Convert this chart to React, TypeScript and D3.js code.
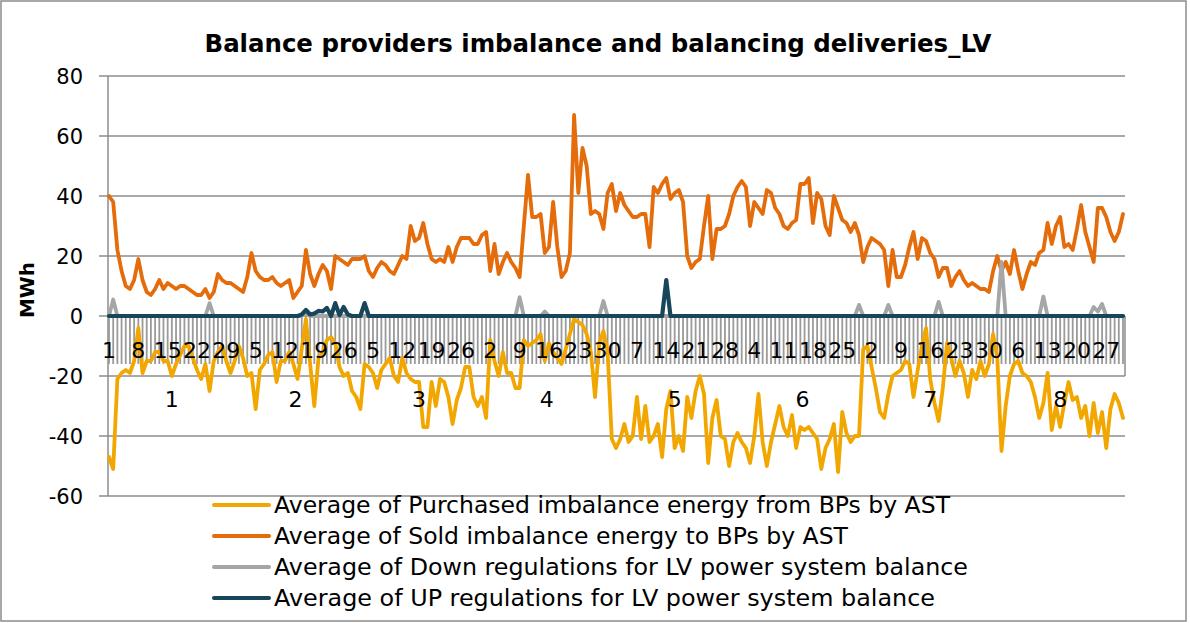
import React from 'react';
import * as d3 from 'd3';

const monthLabels = ['1', '2', '3', '4', '5', '6', '7', '8'];
const monthLengths = [31, 28, 31, 30, 31, 30, 31, 31];
const yTicks = [-60, -40, -20, 0, 20, 40, 60, 80];

const purchased = [
  -47, -51, -21, -19, -18, -19, -15, -4, -19, -15, -15, -12, -12, -15, -15, -20, -16, -13, -10, -10, -14, -18, -21, -16, -25, -15, -12, -10, -15, -19, -15,
  -10, -14, -20, -19, -31, -18, -16, -13, -12, -22, -15, -15, -12, -16, -21, -11, -1, -16, -30, -14, -12, -8, -7, -9, -17, -20, -19, -25,
  -27, -31, -16, -17, -19, -24, -18, -16, -14, -20, -22, -14, -19, -21, -22, -22, -37, -37, -22, -30, -21, -22, -27, -36, -28, -24, -17, -17, -27, -30, -27,
  -34, -8, -15, -20, -12, -19, -19, -24, -24, -8, -10, -9, -8, -6, -15, -9, -12, -14, -16, -11, -6, -1, -2, -3, -6, -12, -27, -9, -5, -12,
  -41, -44, -41, -36, -42, -40, -27, -41, -30, -42, -40, -36, -47, -31, -25, -44, -40, -45, -27, -34, -25, -20, -26, -49, -34, -28, -40, -41, -50, -42, -39,
  -42, -44, -49, -40, -26, -42, -50, -42, -36, -30, -37, -40, -33, -44, -37, -38, -37, -39, -41, -51, -44, -41, -36, -52, -32, -39, -42, -40, -40, -11,
  -10, -17, -24, -32, -34, -26, -20, -19, -18, -15, -16, -27, -18, -10, -4, -21, -29, -35, -24, -9, -14, -20, -15, -19, -27, -18, -21, -15, -20, -16, -6,
  -14, -45, -30, -20, -16, -15, -19, -20, -22, -27, -34, -29, -19, -38, -30, -37, -29, -22, -28, -27, -34, -30, -40, -29, -39, -32, -44, -31, -26, -29, -34,
];

const sold = [
  40, 38, 22, 15, 10, 9, 12, 19, 12, 8, 7, 9, 12, 9, 11, 10, 9, 10, 10, 9, 8, 7, 7, 9, 6, 8, 14, 12, 11, 11, 10,
  9, 8, 13, 21, 15, 13, 12, 12, 13, 11, 10, 11, 12, 6, 8, 10, 22, 14, 10, 14, 17, 15, 9, 20, 19, 18, 17, 19,
  19, 19, 20, 15, 13, 16, 18, 17, 15, 14, 17, 20, 19, 30, 25, 26, 31, 24, 19, 18, 19, 18, 23, 18, 23, 26, 26, 26, 24, 24, 27,
  28, 15, 24, 14, 18, 21, 18, 16, 13, 30, 47, 33, 33, 34, 21, 23, 38, 23, 13, 15, 21, 67, 41, 56, 50, 34, 35, 34, 29, 41,
  44, 35, 41, 37, 35, 33, 33, 34, 34, 23, 43, 41, 44, 46, 39, 41, 42, 38, 20, 16, 18, 19, 30, 40, 19, 29, 29, 30, 34, 40, 43,
  45, 43, 30, 38, 36, 34, 42, 41, 36, 34, 30, 29, 31, 32, 44, 44, 46, 31, 41, 39, 30, 27, 40, 36, 32, 31, 28, 31, 27, 18,
  23, 26, 25, 24, 22, 10, 22, 13, 13, 17, 23, 28, 19, 26, 25, 21, 19, 13, 16, 16, 10, 13, 15, 12, 10, 11, 10, 9, 9, 8, 15,
  20, 15, 18, 14, 22, 15, 9, 14, 18, 17, 21, 22, 31, 24, 30, 33, 23, 24, 22, 29, 37, 28, 23, 18, 36, 36, 33, 28, 25, 28, 34,
];

// [day index, value]; all other days are 0
const downRegSpikes: [number, number][] = [
  [1, 5.5], [24, 4.3], [47, 1], [98, 6.3], [104, 1.5], [118, 5], [179, 3.7], [186, 3.7], [198, 4.7],
  [213, 18], [223, 6.5], [235, 3], [236, 1.5], [237, 4],
];
const upRegSpikes: [number, number][] = [
  [46, 0.5], [47, 2], [48, 0.5], [49, 0.8], [50, 1.7], [51, 1.5], [52, 2.7], [54, 4.3], [55, 0.3], [56, 3], [57, 0.5],
  [61, 4.3], [133, 12],
];

const seriesNames = [
  'Average of Purchased imbalance energy from BPs by AST',
  'Average of Sold imbalance energy to BPs by AST',
  'Average of Down regulations for LV power system balance',
  'Average of UP regulations for LV power system balance',
];
const seriesColors = ['#F2A700', '#E46C0A', '#A6A6A6', '#17465A'];
const legendWidths = [676, 574, 694, 661];

const W = 1190;
const H = 623;
const FONT = '"DejaVu Sans", Verdana, sans-serif';

export default function App() {
  const total = d3.sum(monthLengths);
  const categories: { day: number; month: number }[] = [];
  monthLengths.forEach((len, m) => {
    for (let d = 1; d <= len; d++) categories.push({ day: d, month: m });
  });
  const fromSpikes = (sp: [number, number][]) => {
    const arr = new Array(total).fill(0);
    sp.forEach(([i, v]) => (arr[i] = v));
    return arr;
  };
  const downReg = fromSpikes(downRegSpikes);
  const upReg = fromSpikes(upRegSpikes);
  const allSeries = [purchased, sold, downReg, upReg];

  const x = d3.scaleLinear().domain([0, total - 1]).range([109, 1123]);
  const y = d3.scaleLinear().domain([-60, 80]).range([496, 76]);
  const left = 108;
  const right = 1125;
  const y0 = y(0);
  const yCat = y(-20);

  const line = d3
    .line<number>()
    .x((_, i) => x(i))
    .y((d) => y(d));

  const monthStarts = d3.cumsum([0, ...monthLengths]);

  return (
    <svg width={W} height={H} style={{ position: 'absolute', left: 0, top: 0, background: '#fff' }} fontFamily={FONT}>
      <rect x={1} y={1} width={1185} height={620} fill="#fff" stroke="#8c8c8c" strokeWidth={1.5} />
      <text x={598} y={52} textAnchor="middle" fontSize={25} fontWeight="bold" textLength={787} lengthAdjust="spacingAndGlyphs">
        Balance providers imbalance and balancing deliveries_LV
      </text>
      {/* gridlines and y ticks */}
      {yTicks.map((t) => (
        <g key={t}>
          <line x1={99} x2={right} y1={y(t)} y2={y(t)} stroke="#8c8c8c" strokeWidth={1.5} />
          <text x={83} y={y(t)} dy="0.36em" textAnchor="end" fontSize={21}>
            {t}
          </text>
        </g>
      ))}
      <line x1={left} x2={left} y1={y(80)} y2={y(-60)} stroke="#8c8c8c" strokeWidth={1.5} />
      <text transform={`translate(34,290) rotate(-90)`} textAnchor="middle" fontSize={20} fontWeight="bold" textLength={56} lengthAdjust="spacingAndGlyphs">
        MWh
      </text>
      {/* category tick band */}
      {categories.map((c, i) => (
        <line key={i} x1={x(i)} x2={x(i)} y1={y0} y2={y0 + 48} stroke="#9a9a9a" strokeWidth={1.8} />
      ))}
      <line x1={right} x2={right} y1={y0} y2={yCat} stroke="#8c8c8c" strokeWidth={1.5} />
      {/* month separators */}
      {monthStarts.slice(1, -1).map((s) => (
        <line key={s} x1={x(s - 0.5)} x2={x(s - 0.5)} y1={yCat} y2={yCat + 40} stroke="#8c8c8c" strokeWidth={1.5} />
      ))}
      {/* series */}
      {allSeries.map((s, k) => (
        <path key={k} d={line(s) || ''} fill="none" stroke={seriesColors[k]} strokeWidth={k === 3 ? 4.2 : 3.8} strokeLinejoin="round" strokeLinecap="round" />
      ))}
      {/* day labels */}
      {categories.map((c, i) =>
        i % 7 === 0 ? (
          <text key={i} x={x(i)} y={358} textAnchor="middle" fontSize={22}>
            {c.day}
          </text>
        ) : null
      )}
      {/* month labels */}
      {monthLabels.map((m, k) => (
        <text key={m} x={(x(monthStarts[k] - 0.5) + x(monthStarts[k + 1] - 0.5)) / 2} y={407} textAnchor="middle" fontSize={22}>
          {m}
        </text>
      ))}
      {/* legend */}
      {seriesNames.map((n, k) => {
        const cy = 505 + k * 31;
        return (
          <g key={n}>
            <line x1={214} x2={269} y1={cy} y2={cy} stroke={seriesColors[k]} strokeWidth={4} strokeLinecap="round" />
            <text x={274} y={cy} dy="0.36em" fontSize={23} textLength={legendWidths[k]} lengthAdjust="spacingAndGlyphs">
              {n}
            </text>
          </g>
        );
      })}
    </svg>
  );
}
